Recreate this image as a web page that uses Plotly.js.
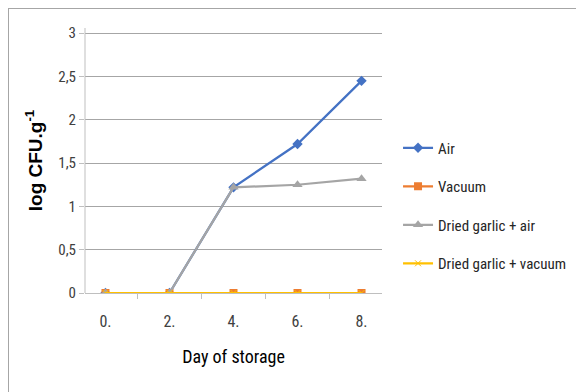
<!DOCTYPE html>
<html>
<head>
<meta charset="utf-8">
<script src="https://cdn.plot.ly/plotly-3.0.1.min.js"></script>
<style>
html,body{margin:0;padding:0;background:#fff;}
#wrap{position:relative;width:576px;height:392px;}
#chart{width:576px;height:392px;}
#frame{position:absolute;left:8px;top:8px;right:0;bottom:0;border-left:1.5px solid #a6a6a6;border-top:1.5px solid #a6a6a6;pointer-events:none;}
</style>
</head>
<body>
<div id="wrap"><div id="chart"></div><div id="frame"></div></div>
<script>
const days = ["0.", "2.", "4.", "6.", "8."];
const air = [0, 0, 1.22, 1.72, 2.45];
const vacuum = [0, 0, 0, 0, 0];
const garlicAir = [0, 0, 1.22, 1.25, 1.32];
const garlicVacuum = [0, 0, 0, 0, 0];
const seriesNames = ["Air", "Vacuum", "Dried garlic + air", "Dried garlic + vacuum"];
const yTicks = [0, 0.5, 1, 1.5, 2, 2.5, 3];

const FONT = "'Liberation Sans Narrow', 'Arial Narrow', 'Roboto Condensed', 'Liberation Sans', sans-serif";

const traces = [
  {x: days, y: air, name: seriesNames[0], type: 'scatter', mode: 'lines+markers', legendgroup: 'a',
   line: {color: '#4472C4', width: 2.25}, marker: {symbol: 'diamond', size: 8, color: '#4472C4'}},
  {x: days, y: vacuum, name: seriesNames[1], type: 'scatter', mode: 'lines+markers', legendgroup: 'b',
   line: {color: '#ED7D31', width: 2.25}, marker: {symbol: 'square', size: 8, color: '#ED7D31'}},
  {x: days, y: garlicAir, name: seriesNames[2], type: 'scatter', mode: 'lines+markers', legendgroup: 'c',
   line: {color: '#A5A5A5', width: 2.25}, marker: {symbol: 'triangle-up', size: 9, color: '#A5A5A5'}},
  {x: days, y: garlicVacuum, name: seriesNames[3], type: 'scatter', mode: 'lines+markers', legendgroup: 'd',
   line: {color: '#FFC000', width: 2.25}, marker: {symbol: 'x-thin-open', size: 6, color: '#FFC000', line: {color: '#FFC000', width: 1}}}
];

const layout = {
  width: 576, height: 392,
  margin: {l: 85, r: 194, t: 28, b: 99, autoexpand: false},
  paper_bgcolor: '#fff', plot_bgcolor: '#fff',
  separators: ',.',
  font: {family: FONT, size: 15, color: '#404040'},
  showlegend: true,
  legend: {x: 1.054, xanchor: 'left', y: 0.33, yanchor: 'middle', tracegroupgap: 16,
           traceorder: 'grouped', font: {family: FONT, size: 15, color: '#262626'}, itemwidth: 30},
  xaxis: {type: 'category', tickson: 'boundaries', ticks: 'outside', ticklen: 5, tickcolor: '#bfbfbf',
          showline: true, linecolor: '#bfbfbf', linewidth: 1, showgrid: false, zeroline: false,
          ticklabelstandoff: 14, automargin: false,
          tickfont: {family: FONT, size: 16, color: '#404040'},
          title: {text: 'Day of storage', font: {family: FONT, size: 18, color: '#000'}, standoff: 20}},
  yaxis: {range: [0, 3.06], tickvals: yTicks, ticks: 'outside', ticklen: 5, tickcolor: '#bfbfbf',
          showline: false, showgrid: true, gridcolor: '#a6a6a6', gridwidth: 1,
          zeroline: false, automargin: false, tickfont: {family: FONT, size: 15, color: '#404040'},
          title: {text: '<b>log CFU.g<sup>-1</sup></b>', font: {family: 'Liberation Sans, sans-serif', size: 19, color: '#000'}, standoff: 10}},
  shapes: [{type: 'line', xref: 'paper', x0: 0, x1: 0, yref: 'paper', y0: 0, y1: 1,
            line: {color: '#bfbfbf', width: 1}, layer: 'above'}]
};

Plotly.newPlot('chart', traces, layout, {displayModeBar: false, staticPlot: true});
</script>
</body>
</html>
